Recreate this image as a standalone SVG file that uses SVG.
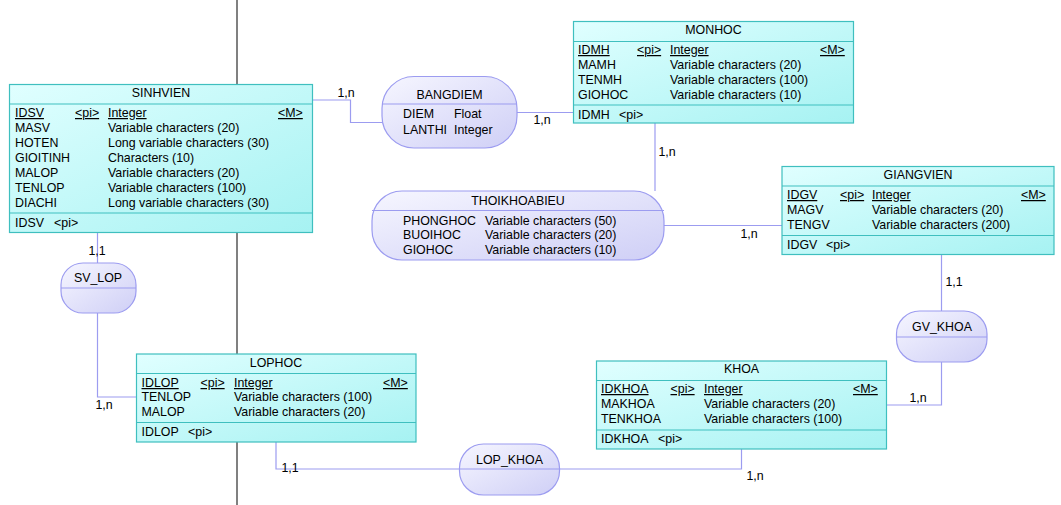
<svg xmlns="http://www.w3.org/2000/svg" width="1061" height="505" viewBox="0 0 1061 505">
<defs>
<linearGradient id="gEnt" x1="0" y1="0" x2="1" y2="1">
<stop offset="0" stop-color="#e0ffff"/>
<stop offset="1" stop-color="#a6f2f2"/>
</linearGradient>
<linearGradient id="gRel" x1="0" y1="0" x2="1" y2="1">
<stop offset="0" stop-color="#f6f6ff"/>
<stop offset="1" stop-color="#cfcff6"/>
</linearGradient>
<style>
text{font-family:"Liberation Sans",Arial,sans-serif;font-size:12.4px;fill:#000}
.ent{fill:url(#gEnt);stroke:#3fbfbf;stroke-width:1.2}
.eln{stroke:#3fbfbf;stroke-width:1.2}
.rel{fill:url(#gRel);stroke:#9c9cf0;stroke-width:1.2}
.rln{stroke:#9c9cf0;stroke-width:1.2}
.con{fill:none;stroke:#9c9cf0;stroke-width:1.2}
.u{text-decoration:underline}
.c{text-anchor:middle}
</style>
</defs>
<rect width="1061" height="505" fill="#fff"/>
<line x1="237" y1="0" x2="237" y2="505" stroke="#808080" stroke-width="2"/>
<g id="connectors">
<polyline class="con" points="313,100 350.5,100 350.5,122.5 382,122.5"/>
<text class="c" x="346" y="97">1,n</text>
<line class="con" x1="517" y1="112.5" x2="573" y2="112.5"/>
<text class="c" x="542" y="124">1,n</text>
<line class="con" x1="655" y1="123" x2="655" y2="191"/>
<text class="c" x="667" y="156">1,n</text>
<line class="con" x1="664" y1="225.5" x2="782" y2="225.5"/>
<text class="c" x="749" y="238">1,n</text>
<line class="con" x1="941.5" y1="254" x2="941.5" y2="311"/>
<text class="c" x="954" y="286">1,1</text>
<polyline class="con" points="941.5,362 941.5,405 887,405"/>
<text class="c" x="918" y="402">1,n</text>
<line class="con" x1="97.5" y1="233" x2="97.5" y2="263"/>
<text class="c" x="97" y="255">1,1</text>
<polyline class="con" points="97.5,313 97.5,397 136,397"/>
<text class="c" x="104" y="409">1,n</text>
<polyline class="con" points="276,442 276,469 459,469"/>
<text class="c" x="290" y="472">1,1</text>
<polyline class="con" points="560,469 741.5,469 741.5,449"/>
<text class="c" x="755" y="480">1,n</text>
</g>
<g id="SINHVIEN">
<rect class="ent" x="9.5" y="84.5" width="303" height="148"/>
<line class="eln" x1="9.5" y1="104" x2="312.5" y2="104"/>
<line class="eln" x1="9.5" y1="213" x2="312.5" y2="213"/>
<text class="c" x="161" y="97">SINHVIEN</text>
<text class="u" x="15" y="117">IDSV</text><text class="u" x="75" y="117">&lt;pi&gt;</text><text class="u" x="108" y="117">Integer</text><text class="u" x="278" y="117">&lt;M&gt;</text>
<text x="15" y="132">MASV</text><text x="108" y="132">Variable characters (20)</text>
<text x="15" y="147">HOTEN</text><text x="108" y="147">Long variable characters (30)</text>
<text x="15" y="162">GIOITINH</text><text x="108" y="162">Characters (10)</text>
<text x="15" y="177">MALOP</text><text x="108" y="177">Variable characters (20)</text>
<text x="15" y="192">TENLOP</text><text x="108" y="192">Variable characters (100)</text>
<text x="15" y="207">DIACHI</text><text x="108" y="207">Long variable characters (30)</text>
<text x="15" y="227">IDSV</text><text x="54" y="227">&lt;pi&gt;</text>
</g>
<g id="BANGDIEM">
<rect class="rel" x="382" y="76.5" width="135" height="71.5" rx="32" ry="32"/>
<line class="rln" x1="382" y1="104" x2="517" y2="104"/>
<text class="c" x="449.5" y="99">BANGDIEM</text>
<text x="403" y="118">DIEM</text><text x="454" y="118">Float</text>
<text x="403" y="134">LANTHI</text><text x="454" y="134">Integer</text>
</g>
<g id="MONHOC">
<rect class="ent" x="573.5" y="21.5" width="280" height="101.5"/>
<line class="eln" x1="573.5" y1="41.5" x2="853.5" y2="41.5"/>
<line class="eln" x1="573.5" y1="105" x2="853.5" y2="105"/>
<text class="c" x="713.5" y="34">MONHOC</text>
<text class="u" x="578" y="54">IDMH</text><text class="u" x="637" y="54">&lt;pi&gt;</text><text class="u" x="670" y="54">Integer</text><text class="u" x="820" y="54">&lt;M&gt;</text>
<text x="578" y="69">MAMH</text><text x="670" y="69">Variable characters (20)</text>
<text x="578" y="84">TENMH</text><text x="670" y="84">Variable characters (100)</text>
<text x="578" y="99">GIOHOC</text><text x="670" y="99">Variable characters (10)</text>
<text x="578" y="119">IDMH</text><text x="619" y="119">&lt;pi&gt;</text>
</g>
<g id="THOIKHOABIEU">
<rect class="rel" x="372" y="191" width="292" height="69" rx="30" ry="30"/>
<line class="rln" x1="372" y1="210.5" x2="664" y2="210.5"/>
<text class="c" x="518" y="205">THOIKHOABIEU</text>
<text x="403" y="225">PHONGHOC</text><text x="485" y="225">Variable characters (50)</text>
<text x="403" y="239">BUOIHOC</text><text x="485" y="239">Variable characters (20)</text>
<text x="403" y="254">GIOHOC</text><text x="485" y="254">Variable characters (10)</text>
</g>
<g id="GIANGVIEN">
<rect class="ent" x="782" y="166.5" width="272" height="88"/>
<line class="eln" x1="782" y1="186" x2="1054" y2="186"/>
<line class="eln" x1="782" y1="235.5" x2="1054" y2="235.5"/>
<text class="c" x="918" y="179">GIANGVIEN</text>
<text class="u" x="787" y="199">IDGV</text><text class="u" x="840" y="199">&lt;pi&gt;</text><text class="u" x="872" y="199">Integer</text><text class="u" x="1021" y="199">&lt;M&gt;</text>
<text x="787" y="214">MAGV</text><text x="872" y="214">Variable characters (20)</text>
<text x="787" y="229">TENGV</text><text x="872" y="229">Variable characters (200)</text>
<text x="787" y="249">IDGV</text><text x="826" y="249">&lt;pi&gt;</text>
</g>
<g id="SV_LOP">
<rect class="rel" x="61" y="263" width="75" height="50" rx="22" ry="22"/>
<line class="rln" x1="61" y1="288" x2="136" y2="288"/>
<text class="c" x="98" y="282">SV_LOP</text>
</g>
<g id="GV_KHOA">
<rect class="rel" x="896.5" y="311" width="90.5" height="51" rx="23" ry="23"/>
<line class="rln" x1="896.5" y1="337" x2="987" y2="337"/>
<text class="c" x="942" y="331">GV_KHOA</text>
</g>
<g id="LOPHOC">
<rect class="ent" x="136.5" y="354" width="279.5" height="88"/>
<line class="eln" x1="136.5" y1="373.5" x2="416" y2="373.5"/>
<line class="eln" x1="136.5" y1="422.5" x2="416" y2="422.5"/>
<text class="c" x="276" y="367">LOPHOC</text>
<text class="u" x="141.5" y="387">IDLOP</text><text class="u" x="200.5" y="387">&lt;pi&gt;</text><text class="u" x="234" y="387">Integer</text><text class="u" x="383" y="387">&lt;M&gt;</text>
<text x="141.5" y="401">TENLOP</text><text x="234" y="401">Variable characters (100)</text>
<text x="141.5" y="416">MALOP</text><text x="234" y="416">Variable characters (20)</text>
<text x="141.5" y="436">IDLOP</text><text x="188" y="436">&lt;pi&gt;</text>
</g>
<g id="KHOA">
<rect class="ent" x="596.5" y="361" width="290" height="88"/>
<line class="eln" x1="596.5" y1="380.5" x2="886.5" y2="380.5"/>
<line class="eln" x1="596.5" y1="430" x2="886.5" y2="430"/>
<text class="c" x="741.5" y="373">KHOA</text>
<text class="u" x="601" y="393">IDKHOA</text><text class="u" x="670.5" y="393">&lt;pi&gt;</text><text class="u" x="704" y="393">Integer</text><text class="u" x="853" y="393">&lt;M&gt;</text>
<text x="601" y="408">MAKHOA</text><text x="704" y="408">Variable characters (20)</text>
<text x="601" y="423">TENKHOA</text><text x="704" y="423">Variable characters (100)</text>
<text x="601" y="443">IDKHOA</text><text x="658" y="443">&lt;pi&gt;</text>
</g>
<g id="LOP_KHOA">
<rect class="rel" x="459.5" y="444" width="100" height="51" rx="24" ry="24"/>
<line class="rln" x1="459.5" y1="469" x2="559.5" y2="469"/>
<text class="c" x="509.5" y="464">LOP_KHOA</text>
</g>
</svg>
